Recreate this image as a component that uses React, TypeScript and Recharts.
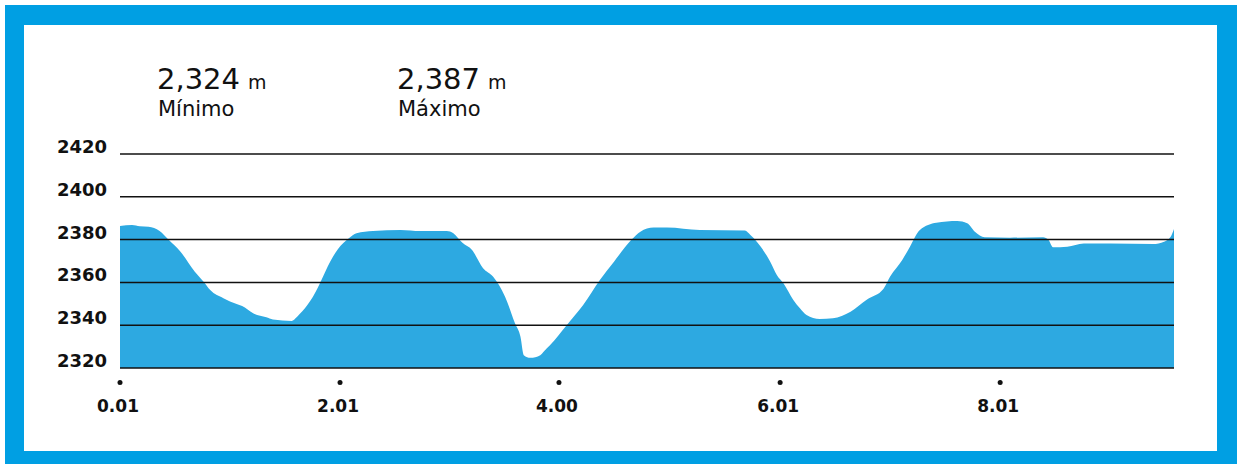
import React from 'react';
import { AreaChart, Area, XAxis, YAxis, ReferenceLine } from 'recharts';

const distanceKm = [0.01,0.12,0.19,0.27,0.37,0.45,0.56,0.69,0.77,0.83,0.95,1.07,1.12,1.22,1.34,1.40,1.57,1.62,1.81,1.84,1.92,1.99,2.09,2.16,2.31,2.56,2.74,2.98,3.04,3.12,3.21,3.31,3.40,3.51,3.60,3.65,3.68,3.74,3.83,3.86,3.92,4.07,4.22,4.37,4.50,4.66,4.74,4.86,4.98,5.28,5.69,5.74,5.92,5.98,6.04,6.13,6.19,6.25,6.37,6.49,6.65,6.80,6.95,7.01,7.12,7.19,7.28,7.43,7.62,7.71,7.78,7.87,8.10,8.40,8.45,8.49,8.62,8.77,9.01,9.40,9.50,9.56,9.59];
const elevationM = [2386.4,2386.8,2386.2,2386,2384,2380,2374.3,2365,2360.3,2356.4,2352.6,2349.9,2349,2345.6,2343.7,2342.7,2342,2344,2357.7,2361,2369.7,2375.5,2380.6,2383,2384,2384.5,2384,2384,2383,2378.6,2375.1,2366.6,2362.7,2353.3,2340.9,2334.6,2326,2324.8,2326,2327.6,2330.7,2340,2349.4,2361,2369.7,2380,2383.7,2385.6,2385.7,2384.5,2384.2,2382.1,2369.7,2363.5,2359.6,2351.8,2347.9,2344.8,2342.9,2343.2,2346.3,2352,2357,2362.7,2370.5,2376.7,2384.5,2387.9,2388.7,2387.6,2383.7,2381.1,2380.9,2381.1,2379.8,2376.4,2376.7,2378.2,2378.2,2377.9,2379,2381.3,2384.9];
const xTicks = [0.01, 2.01, 4.0, 6.01, 8.01];
const yTicks = [2320, 2340, 2360, 2380, 2400, 2420];
const minLabel = '2,324';
const maxLabel = '2,387';
const minCaption = 'Mínimo';
const maxCaption = 'Máximo';
const unit = 'm';

const data = distanceKm.map((d, i) => ({ d, e: elevationM[i] }));

const FONT = '"DejaVu Sans", sans-serif';

const XTick = (props: any) => {
  const { x, y, payload } = props;
  return (
    <g>
      <circle cx={x} cy={y + 14.5} r={2.5} fill="#111" />
      <text x={x - 2} y={y + 44} textAnchor="middle" fontFamily={FONT} fontWeight="bold" fontSize={17} fill="#111">
        {Number(payload.value).toFixed(2)}
      </text>
    </g>
  );
};

const YTick = (props: any) => {
  const { x, y, payload } = props;
  return (
    <text x={x} y={y - 1} textAnchor="end" fontFamily={FONT} fontWeight="bold" fontSize={18} fill="#111">
      {payload.value}
    </text>
  );
};

export default function App() {
  return (
    <div style={{ position: 'absolute', left: 0, top: 0, width: 1241, height: 464, overflow: 'hidden', background: '#fff' }}>
      <div style={{ position: 'absolute', left: 5, top: 5, width: 1193, height: 426, border: '19px solid #009FE3', borderTopWidth: 20, borderRightWidth: 20, background: '#fff' }} />
      <svg style={{ position: 'absolute', left: 0, top: 0 }} width={1241} height={130}>
        <text x={157} y={89} fontFamily={FONT} fontSize={29} fill="#111">{minLabel}</text>
        <text x={248} y={89} fontFamily={FONT} fontSize={19} fill="#111">{unit}</text>
        <text x={158} y={116} fontFamily={FONT} fontSize={21} fill="#111">{minCaption}</text>
        <text x={397} y={89} fontFamily={FONT} fontSize={29} fill="#111">{maxLabel}</text>
        <text x={488} y={89} fontFamily={FONT} fontSize={19} fill="#111">{unit}</text>
        <text x={398} y={116} fontFamily={FONT} fontSize={21} fill="#111">{maxCaption}</text>
      </svg>
      <div style={{ position: 'absolute', left: 0, top: 0 }}>
        <AreaChart width={1241} height={464} data={data} margin={{ top: 154, right: 67, bottom: 46, left: 50 }}>
          <XAxis dataKey="d" type="number" domain={[0.01, 9.59]} ticks={xTicks} axisLine={false} tickLine={false} tickSize={0} tickMargin={0} height={50} tick={<XTick />} interval={0} allowDataOverflow />
          <YAxis type="number" domain={[2320, 2420]} ticks={yTicks} axisLine={false} tickLine={false} tickSize={0} tickMargin={13} width={70} tick={<YTick />} interval={0} allowDataOverflow />
          <Area dataKey="e" type="monotone" stroke="none" fill="#2DA9E1" fillOpacity={1} isAnimationActive={false} baseValue={2320} />
          {yTicks.map((t) => (
            <ReferenceLine key={t} y={t} stroke="#111" strokeWidth={1.5} />
          ))}
        </AreaChart>
      </div>
    </div>
  );
}
